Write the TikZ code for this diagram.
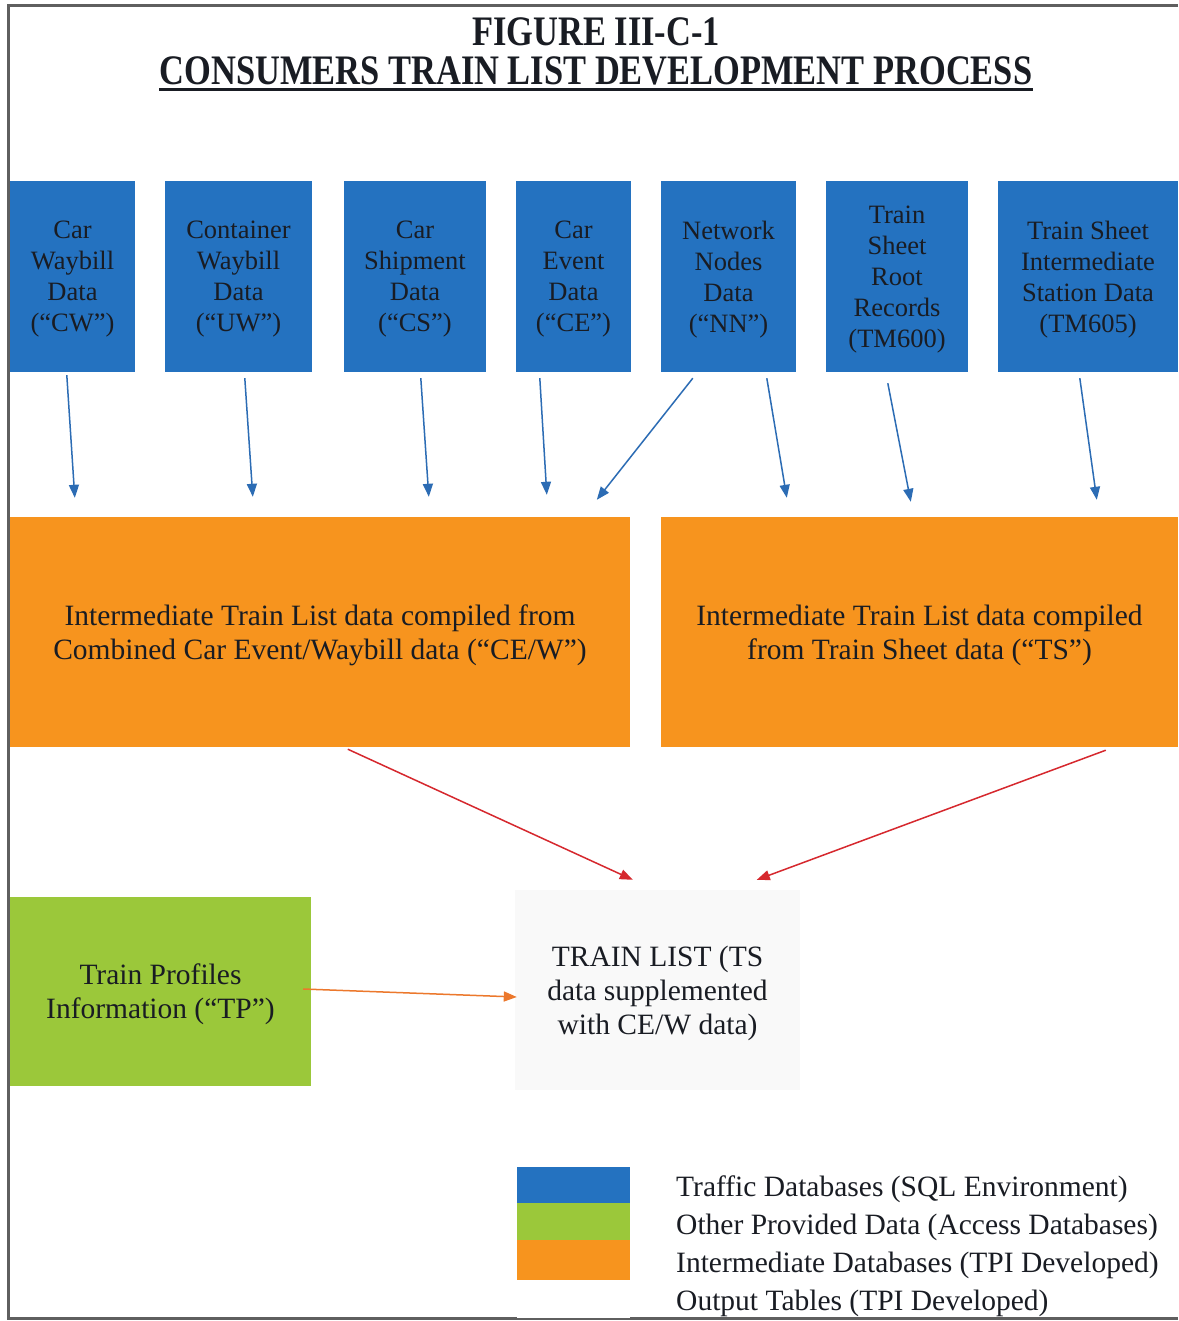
\documentclass[tikz,border=0pt]{standalone}
\usepackage{fontspec}
\setmainfont{Liberation Serif}
\usetikzlibrary{arrows.meta,calc}
\definecolor{dbblue}{RGB}{36,114,192}
\definecolor{dborange}{RGB}{247,148,30}
\definecolor{dbgreen}{RGB}{155,200,58}
\definecolor{dbout}{RGB}{249,249,249}
\definecolor{arblue}{RGB}{44,108,180}
\definecolor{arred}{RGB}{214,40,46}
\definecolor{arorange}{RGB}{236,120,44}
\definecolor{framegray}{RGB}{95,95,95}
\definecolor{inktext}{RGB}{25,28,35}
\begin{document}
\begin{tikzpicture}[x=1pt,y=-1pt,
  box/.style={draw=none, inner sep=0pt, align=center, text=inktext, text depth=-2pt},
  srcbox/.style={box, fill=dbblue, minimum height=191, font=\fontsize{26.5}{31}\selectfont},
  midbox/.style={box, fill=dborange, minimum height=230, font=\fontsize{29.5}{34}\selectfont},
  tpbox/.style={box, fill=dbgreen, font=\fontsize{29.5}{34}\selectfont},
  outbox/.style={box, fill=dbout, font=\fontsize{29.5}{34}\selectfont, text depth=-4pt},
  swatch/.style={draw=none, inner sep=0pt, minimum width=113},
  legtext/.style={inner sep=0pt, anchor=west, text=inktext, font=\fontsize{29.5}{34}\selectfont},
  titletext/.style={inner sep=0pt, text=inktext, font=\fontsize{42}{48}\selectfont\bfseries},
  conn/.style={line width=1.5pt, -{Triangle[length=13pt,width=10pt]}},
  blueconn/.style={conn, arblue},
  redconn/.style={conn, arred},
  orangeconn/.style={conn, arorange},
]
\useasboundingbox (0,0) rectangle (1178,1321);
\fill[white] (0,0) rectangle (1178,1321);
% frame
\draw[framegray, line width=3pt] (1178,6) -- (8,6) -- (8,1318) -- (1178,1318);

% title
\node[titletext] (t1) at (596,32) {\scalebox{0.82}[1]{FIGURE III-C-1}};
\node[titletext] (t2) at (596,71) {\scalebox{0.82}[1]{CONSUMERS TRAIN LIST DEVELOPMENT PROCESS}};
\draw[inktext, line width=3pt] ($(t2.base west)+(0,5)$) -- ($(t2.base east)+(0,5)$);

% source boxes
\node[srcbox, minimum width=125] (cw) at (72.5,276.5) {Car\\Waybill\\Data\\(“CW”)};
\node[srcbox, minimum width=147] (uw) at (238.5,276.5) {Container\\Waybill\\Data\\(“UW”)};
\node[srcbox, minimum width=142] (cs) at (415,276.5) {Car\\Shipment\\Data\\(“CS”)};
\node[srcbox, minimum width=115] (ce) at (573.5,276.5) {Car\\Event\\Data\\(“CE”)};
\node[srcbox, minimum width=135] (nn) at (728.5,276.5) {Network\\Nodes\\Data\\(“NN”)};
\node[srcbox, minimum width=142] (tmr) at (897,276.5) {Train\\Sheet\\Root\\Records\\(TM600)};
\node[srcbox, minimum width=180] (tmi) at (1088,276.5) {Train Sheet\\Intermediate\\Station Data\\(TM605)};

% intermediate boxes
\node[midbox, minimum width=620] (ol) at (320,632) {Intermediate Train List data compiled from\\Combined Car Event/Waybill data (“CE/W”)};
\node[midbox, minimum width=517] (or) at (919.5,632) {Intermediate Train List data compiled\\from Train Sheet data (“TS”)};

% other data and output
\node[tpbox, minimum width=301, minimum height=189] (tp) at (160.5,991.5) {Train Profiles\\Information (“TP”)};
\node[outbox, minimum width=285, minimum height=200] (tl) at (657.5,990) {TRAIN LIST (TS\\data supplemented\\with CE/W data)};

% connectors: sources to intermediate
\draw[blueconn] ($(cw.south west)+(57,3)$) -- ($(ol.north west)+(65,-19)$);
\draw[blueconn] ($(uw.south west)+(80,6)$) -- ($(ol.north west)+(243,-20)$);
\draw[blueconn] ($(cs.south west)+(77,6)$) -- ($(ol.north west)+(419,-20)$);
\draw[blueconn] ($(ce.south west)+(24,6)$) -- ($(ol.north west)+(537,-22)$);
\draw[blueconn] ($(nn.south west)+(32,6)$) -- ($(ol.north west)+(587,-17)$);
\draw[blueconn] ($(nn.south west)+(106,6)$) -- ($(or.north west)+(126,-19)$);
\draw[blueconn] ($(tmr.south west)+(62,11)$) -- ($(or.north west)+(250,-15)$);
\draw[blueconn] ($(tmi.south west)+(82,6)$) -- ($(or.north west)+(436,-17)$);

% intermediate to output
\draw[redconn] ($(ol.south west)+(338,2)$) -- ($(tl.north west)+(118,-10)$);
\draw[redconn] ($(or.south west)+(445,3)$) -- ($(tl.north west)+(242,-10)$);
\draw[orangeconn] ($(tp.east)+(-8,-2.5)$) -- ($(tl.west)+(2,7)$);

% legend
\node[swatch, fill=dbblue, minimum height=36, anchor=north west] (lgb) at (517,1167) {};
\node[swatch, fill=dbgreen, minimum height=37, anchor=north west] (lgg) at (517,1203) {};
\node[swatch, fill=dborange, minimum height=40, anchor=north west] (lgo) at (517,1240) {};
\node[swatch, fill=white, minimum height=38, anchor=north west] (lgw) at (517,1280) {};
\node[legtext] (l1) at (676,1189) {Traffic Databases (SQL Environment)};
\node[legtext] (l2) at (676,1227) {Other Provided Data (Access Databases)};
\node[legtext] (l3) at (676,1265) {Intermediate Databases (TPI Developed)};
\node[legtext] (l4) at (676,1303) {Output Tables (TPI Developed)};
\end{tikzpicture}
\end{document}
